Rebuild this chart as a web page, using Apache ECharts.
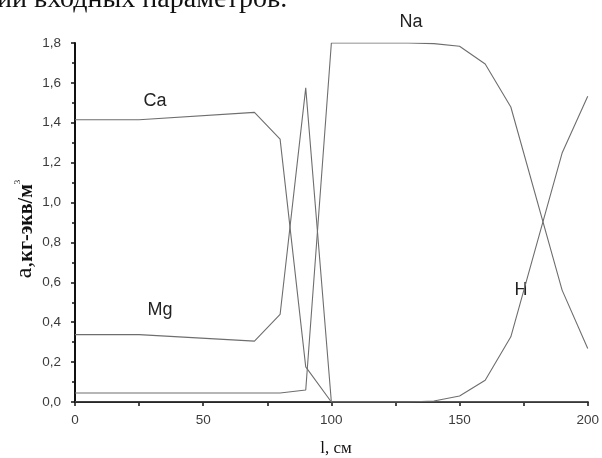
<!DOCTYPE html>
<html>
<head>
<meta charset="utf-8">
<script src="https://cdn.jsdelivr.net/npm/echarts@6/dist/echarts.min.js"></script>
<style>html,body{margin:0;padding:0;background:#fff;}#c{width:602px;height:458px;}</style>
</head>
<body>
<div id="c"></div>
<script>
// Data
var lValues = [0, 25, 70, 80, 90, 100, 130, 140, 150, 160, 170, 190, 200];
var caValues = [1.415, 1.415, 1.452, 1.318, 0.176, 0, 0, 0, 0, 0, 0, 0, 0];
var mgValues = [0.338, 0.338, 0.305, 0.439, 1.575, 0, 0, 0, 0, 0, 0, 0, 0];
var naValues = [0.045, 0.045, 0.045, 0.045, 0.06, 1.8, 1.8, 1.797, 1.784, 1.695, 1.479, 0.561, 0.268];
var hValues = [0, 0, 0, 0, 0, 0, 0, 0.005, 0.03, 0.109, 0.327, 1.248, 1.533];
var seriesNames = ['Ca', 'Mg', 'Na', 'H'];
var xTitle = 'l, см';
var headerText = 'ии входных параметров.';

function pairs(vals) { return lValues.map(function (l, i) { return [l, vals[i]]; }); }

var lineStyle = { color: '#6e6e6e', width: 1.1 };
function mk(name, vals) {
  return { name: name, type: 'line', data: pairs(vals), symbol: 'none', lineStyle: lineStyle, animation: false };
}

var chart = echarts.init(document.getElementById('c'));
var labelFont = 'Liberation Sans, Arial, sans-serif';
chart.setOption({
  animation: false,
  grid: { left: 75, right: 11, top: 43, bottom: 56 },
  xAxis: {
    type: 'value', min: 0, max: 200, interval: 50,
    axisLine: { show: true, lineStyle: { color: '#111', width: 2 } },
    axisTick: { show: true, length: 4, lineStyle: { color: '#111', width: 1.5 } },
    minorTick: { show: true, splitNumber: 2, length: 4, lineStyle: { color: '#111', width: 1.5 } },
    splitLine: { show: false },
    axisLabel: { margin: 11, color: '#3c3c3c', fontSize: 13.5, fontFamily: labelFont }
  },
  yAxis: {
    type: 'value', min: 0, max: 1.8, interval: 0.2,
    axisLine: { show: true, lineStyle: { color: '#111', width: 2 } },
    axisTick: { show: true, length: 4, lineStyle: { color: '#111', width: 1.5 } },
    minorTick: { show: true, splitNumber: 2, length: 3, lineStyle: { color: '#111', width: 1.5 } },
    splitLine: { show: false },
    axisLabel: { margin: 14, color: '#3c3c3c', fontSize: 13.5, fontFamily: labelFont,
      formatter: function (v) { return v.toFixed(1).replace('.', ','); } }
  },
  series: [mk(seriesNames[0], caValues), mk(seriesNames[1], mgValues), mk(seriesNames[2], naValues), mk(seriesNames[3], hValues)],
  graphic: [
    { type: 'text', left: -3, top: -14, style: { text: headerText, font: '28px "Liberation Serif", "Times New Roman", serif', fill: '#111' } },
    { type: 'text', x: 155, y: 101, style: { text: seriesNames[0], font: '18px ' + labelFont, fill: '#222', align: 'center', verticalAlign: 'middle' } },
    { type: 'text', x: 160, y: 310, style: { text: seriesNames[1], font: '18px ' + labelFont, fill: '#222', align: 'center', verticalAlign: 'middle' } },
    { type: 'text', x: 411, y: 22, style: { text: seriesNames[2], font: '18px ' + labelFont, fill: '#222', align: 'center', verticalAlign: 'middle' } },
    { type: 'text', x: 521, y: 290, style: { text: seriesNames[3], font: '18px ' + labelFont, fill: '#222', align: 'center', verticalAlign: 'middle' } },
    { type: 'text', x: 336, y: 449, style: { text: xTitle, font: '17px "Liberation Serif", "Times New Roman", serif', fill: '#111', align: 'center', verticalAlign: 'middle' } },
    { type: 'text', x: 25, y: 229, rotation: Math.PI / 2,
      style: {
        text: '{a|a,}{b|кг-экв/м}{s|3}',
        align: 'center', verticalAlign: 'middle',
        rich: {
          a: { fontFamily: '"Liberation Serif", serif', fontSize: 24, fill: '#111', verticalAlign: 'bottom', lineHeight: 24 },
          b: { fontFamily: '"Liberation Serif", serif', fontSize: 20, fontWeight: 'bold', fill: '#111', verticalAlign: 'bottom', lineHeight: 24 },
          s: { fontFamily: '"Liberation Serif", serif', fontSize: 9, fill: '#111', verticalAlign: 'top', lineHeight: 24 }
        }
      } }
  ]
});
</script>
</body>
</html>
